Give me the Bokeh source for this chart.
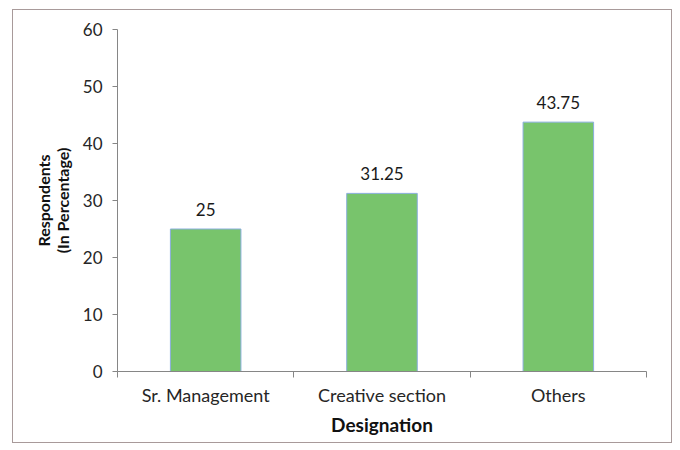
from bokeh.plotting import figure
from bokeh.layouts import column
from bokeh.models import ColumnDataSource, FixedTicker, Range1d, LabelSet
from bokeh.core.properties import value
from bokeh.embed import file_html
from bokeh.resources import INLINE

categories = ["Sr. Management", "Creative section", "Others"]
values = [25, 31.25, 43.75]
value_labels = ["25", "31.25", "43.75"]
y_ticks = [0, 10, 20, 30, 40, 50, 60]

FONT = "Lato"

xs = [i + 0.5 for i in range(len(categories))]
src = ColumnDataSource(dict(x=xs, top=values, lab=value_labels))

p = figure(width=658, height=432, output_backend="svg", toolbar_location=None,
           x_range=Range1d(0, len(categories)), y_range=Range1d(0, 60),
           min_border_left=104, min_border_right=25, min_border_top=19,
           min_border_bottom=71)
p.outline_line_color = None
p.xgrid.grid_line_color = None
p.ygrid.grid_line_color = None
p.background_fill_color = "white"
p.border_fill_color = "white"

p.vbar(x="x", top="top", width=0.4, bottom=0, source=src,
       fill_color="#78c46c", line_color="#8aaedc", line_width=1)

labels = LabelSet(x="x", y="top", text="lab", source=src, text_align="center",
                  text_baseline="bottom", y_offset=13, text_font_size="17px",
                  text_font=value(FONT), text_color="#1a1a1a")
p.add_layout(labels)

# x axis
xa = p.xaxis[0]
xa.ticker = FixedTicker(ticks=xs, minor_ticks=list(range(len(categories) + 1)))
xa.major_label_overrides = {x: c for x, c in zip(xs, categories)}
xa.major_tick_line_color = None
xa.major_tick_out = 0
xa.major_tick_in = 0
xa.minor_tick_out = 6
xa.minor_tick_in = 0
xa.minor_tick_line_color = "#868686"
xa.axis_line_color = "#868686"
xa.major_label_text_font = FONT
xa.major_label_text_font_size = "18px"
xa.major_label_text_color = "#262626"
xa.major_label_standoff = 6
xa.axis_label = "Designation"
xa.axis_label_text_font = FONT
xa.axis_label_text_font_size = "19px"
xa.axis_label_text_font_style = "bold"
xa.axis_label_text_color = "#111111"
xa.axis_label_standoff = 4

# y axis
ya = p.yaxis[0]
ya.ticker = FixedTicker(ticks=y_ticks)
ya.minor_tick_line_color = None
ya.major_tick_out = 5
ya.major_tick_in = 0
ya.major_tick_line_color = "#868686"
ya.axis_line_color = "#868686"
ya.major_label_text_font = FONT
ya.major_label_text_font_size = "17px"
ya.major_label_text_color = "#262626"
ya.major_label_standoff = 10
ya.axis_label = "Respondents\n(In Percentage)"
ya.axis_label_text_font = FONT
ya.axis_label_text_font_size = "16px"
ya.axis_label_text_font_style = "bold"
ya.axis_label_text_color = "#111111"
ya.axis_label_text_line_height = 1.0
ya.axis_label_standoff = 8

layout = column(p, styles={"border": "1px solid #a89a9a",
                           "margin-left": "12px", "margin-top": "9px"})

open("out.html", "w").write(file_html(layout, INLINE))
